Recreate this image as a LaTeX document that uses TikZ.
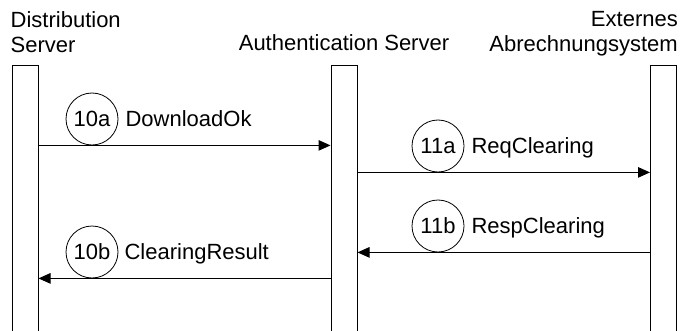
\documentclass[tikz,border=0pt]{standalone}
\usepackage{fontspec}
\setmainfont{Liberation Sans}
\usetikzlibrary{arrows.meta}
\begin{document}
\begin{tikzpicture}[x=1pt,y=-1pt,
  txt/.style={font=\fontsize{22}{25}\selectfont, inner sep=0pt},
  lifeline/.style={draw=black, line width=1pt, fill=white, minimum width=26pt, minimum height=290pt, anchor=north, inner sep=0pt},
  num/.style={draw, circle, line width=0.8pt, minimum size=52pt, inner sep=0pt, font=\fontsize{22}{25}\selectfont},
  lbl/.style={txt, anchor=west, text height=15.5pt, text depth=0pt},
  msg/.style={line width=1pt, -{Triangle[length=12pt,width=10.5pt]}}]
\useasboundingbox (0,0) rectangle (684,331);
\clip (0,0) rectangle (684,331);
\node[lifeline] (ds) at (25,65) {};
\node[lifeline] (as) at (344,65) {};
\node[lifeline] (ex) at (663.5,65) {};
\node[txt, anchor=north west, align=left] (hds) at (10.5,11.5) {Distribution\\Server};
\node[txt, anchor=base] (has) at (344,51) {Authentication Server};
\node[txt, anchor=north east, align=right] (hex) at (678,11.5) {Externes\\Abrechnungsystem};
\node[num] (c10a) at (92,119) {10a};
\node[num] (c11a) at (438,146) {11a};
\node[num] (c11b) at (438,226) {11b};
\node[num] (c10b) at (92,252) {10b};
\node[lbl] (l10a) at ([xshift=7pt]c10a.east) {DownloadOk};
\node[lbl] (l11a) at ([xshift=7pt]c11a.east) {ReqClearing};
\node[lbl] (l11b) at ([xshift=7pt]c11b.east) {RespClearing};
\node[lbl] (l10b) at ([xshift=6pt]c10b.east) {ClearingResult};
\draw[msg] (ds.east |- c10a.south) -- (as.west |- c10a.south);
\draw[msg] (as.east |- c11a.south) -- (ex.west |- c11a.south);
\draw[msg] (ex.west |- c11b.south) -- (as.east |- c11b.south);
\draw[msg] (as.west |- c10b.south) -- (ds.east |- c10b.south);
\end{tikzpicture}
\end{document}
